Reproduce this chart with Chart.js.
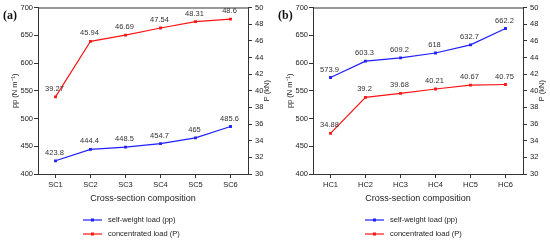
<!DOCTYPE html>
<html><head><meta charset="utf-8">
<script src="https://cdn.jsdelivr.net/npm/chart.js@4"></script>
<style>
html,body{margin:0;padding:0;background:#fff;width:550px;height:241px;overflow:hidden}
canvas{position:absolute;top:0}
#ca{left:0}#cb{left:275px}
</style></head>
<body>
<canvas id="ca" width="275" height="241"></canvas>
<canvas id="cb" width="275" height="241"></canvas>
<script>
// ---- data ----
const categoriesA = ['SC1', 'SC2', 'SC3', 'SC4', 'SC5', 'SC6'];
const ppA = [423.8, 444.4, 448.5, 454.7, 465, 485.6];
const PA = [39.27, 45.94, 46.69, 47.54, 48.31, 48.6];
const categoriesB = ['HC1', 'HC2', 'HC3', 'HC4', 'HC5', 'HC6'];
const ppB = [573.9, 603.3, 609.2, 618, 632.7, 662.2];
const PB = [34.88, 39.2, 39.68, 40.21, 40.67, 40.75];
const ppRange = [400, 700, 50];   // min, max, step of left axis
const PRange = [30, 50, 2];       // min, max, step of right axis
const seriesLabels = ['self-weight load (pp)', 'concentrated load (P)'];
const seriesColors = ['#1f1fff', '#ff1414'];
const panelLabels = ['(a)', '(b)'];
const xTitle = 'Cross-section composition';
const yTitle = 'pp (N m\u207B\u00B9)';
const y1Title = 'P (kN)';

const FONT = "'Liberation Sans', Arial, sans-serif";
const TXT = '#222';

const labelsPlugin = {
  id: 'pointLabels',
  afterDatasetsDraw(chart) {
    const ctx = chart.ctx;
    ctx.save();
    ctx.font = '7.5px ' + FONT;
    ctx.fillStyle = '#333';
    ctx.textAlign = 'center';
    ctx.textBaseline = 'middle';
    chart.data.datasets.forEach((ds, di) => {
      const meta = chart.getDatasetMeta(di);
      meta.data.forEach((el, i) => {
        ctx.fillText(String(ds.data[i]), el.x - 1, el.y - 8);
      });
    });
    ctx.restore();
  }
};

const decorPlugin = {
  id: 'decor',
  afterDraw(chart) {
    const o = chart.options.plugins.decor;
    const ctx = chart.ctx;
    const ca = chart.chartArea;
    ctx.save();
    // top frame line
    ctx.strokeStyle = '#333';
    ctx.lineWidth = 1;
    ctx.beginPath();
    ctx.moveTo(ca.left, ca.top + 0.5);
    ctx.lineTo(ca.right, ca.top + 0.5);
    ctx.stroke();
    // right axis title (reads bottom-to-top)
    ctx.fillStyle = TXT;
    ctx.font = '7.5px ' + FONT;
    ctx.textAlign = 'center';
    ctx.textBaseline = 'middle';
    ctx.translate(ca.right + 19, (ca.top + ca.bottom) / 2);
    ctx.rotate(-Math.PI / 2);
    ctx.fillText(y1Title, 0, 0);
    ctx.restore();
    // panel label
    ctx.save();
    ctx.fillStyle = '#111';
    ctx.font = "bold 12px 'Liberation Serif', 'Times New Roman', serif";
    ctx.textAlign = 'left';
    ctx.textBaseline = 'middle';
    ctx.fillText(o.panel, 3, 16);
    ctx.restore();
    // legend
    ctx.save();
    chart.data.datasets.forEach((ds, i) => {
      const y = 220 + i * 14;
      const x0 = o.legendX;
      ctx.strokeStyle = ds.borderColor;
      ctx.lineWidth = 1.2;
      ctx.beginPath();
      ctx.moveTo(x0, y);
      ctx.lineTo(x0 + 19, y);
      ctx.stroke();
      ctx.fillStyle = ds.borderColor;
      ctx.fillRect(x0 + 8, y - 1.5, 3, 3);
      ctx.fillStyle = TXT;
      ctx.font = '7.5px ' + FONT;
      ctx.textAlign = 'left';
      ctx.textBaseline = 'middle';
      ctx.fillText(ds.label, x0 + 25, y);
    });
    ctx.restore();
  }
};

function makeChart(id, cats, pp, P, panel, legendX) {
  const axisCommon = {
    border: { display: true, color: '#333', width: 1 },
    grid: { drawOnChartArea: false, drawTicks: true, tickLength: 4, color: '#333' },
  };
  return new Chart(document.getElementById(id), {
    type: 'line',
    data: {
      labels: cats,
      datasets: [
        { label: seriesLabels[0], data: pp, yAxisID: 'y', borderColor: seriesColors[0], backgroundColor: seriesColors[0],
          borderWidth: 1.2, pointStyle: 'rect', pointRadius: 2, pointBorderWidth: 0, tension: 0 },
        { label: seriesLabels[1], data: P, yAxisID: 'y1', borderColor: seriesColors[1], backgroundColor: seriesColors[1],
          borderWidth: 1.2, pointStyle: 'rect', pointRadius: 2, pointBorderWidth: 0, tension: 0 }
      ]
    },
    options: {
      responsive: false,
      animation: false,
      devicePixelRatio: 1,
      layout: { padding: { top: 7, bottom: 37, left: 0, right: 0 } },
      plugins: { legend: { display: false }, tooltip: { enabled: false }, decor: { panel, legendX } },
      scales: {
        x: {
          ...axisCommon,
          offset: true,
          ticks: { color: TXT, font: { family: FONT, size: 7.5 }, padding: 2, maxRotation: 0 },
          title: { display: true, text: xTitle, color: TXT, font: { family: FONT, size: 9 }, padding: { top: 0, bottom: 0 } },
          afterFit(s) { s.height = 30; }
        },
        y: {
          ...axisCommon,
          position: 'left',
          min: ppRange[0], max: ppRange[1],
          ticks: { stepSize: ppRange[2], color: TXT, font: { family: FONT, size: 7.5 }, padding: 1 },
          title: { display: true, text: yTitle, color: TXT, font: { family: FONT, size: 7.5 }, padding: { top: 10, bottom: 0 } },
          afterFit(s) { s.width = 38; }
        },
        y1: {
          ...axisCommon,
          position: 'right',
          min: PRange[0], max: PRange[1],
          ticks: { stepSize: PRange[2], color: TXT, font: { family: FONT, size: 7.5 }, padding: 3 },
          title: { display: false },
          afterFit(s) { s.width = 27; }
        }
      }
    },
    plugins: [labelsPlugin, decorPlugin]
  });
}

makeChart('ca', categoriesA, ppA, PA, panelLabels[0], 83);
makeChart('cb', categoriesB, ppB, PB, panelLabels[1], 90);
</script>
</body></html>
